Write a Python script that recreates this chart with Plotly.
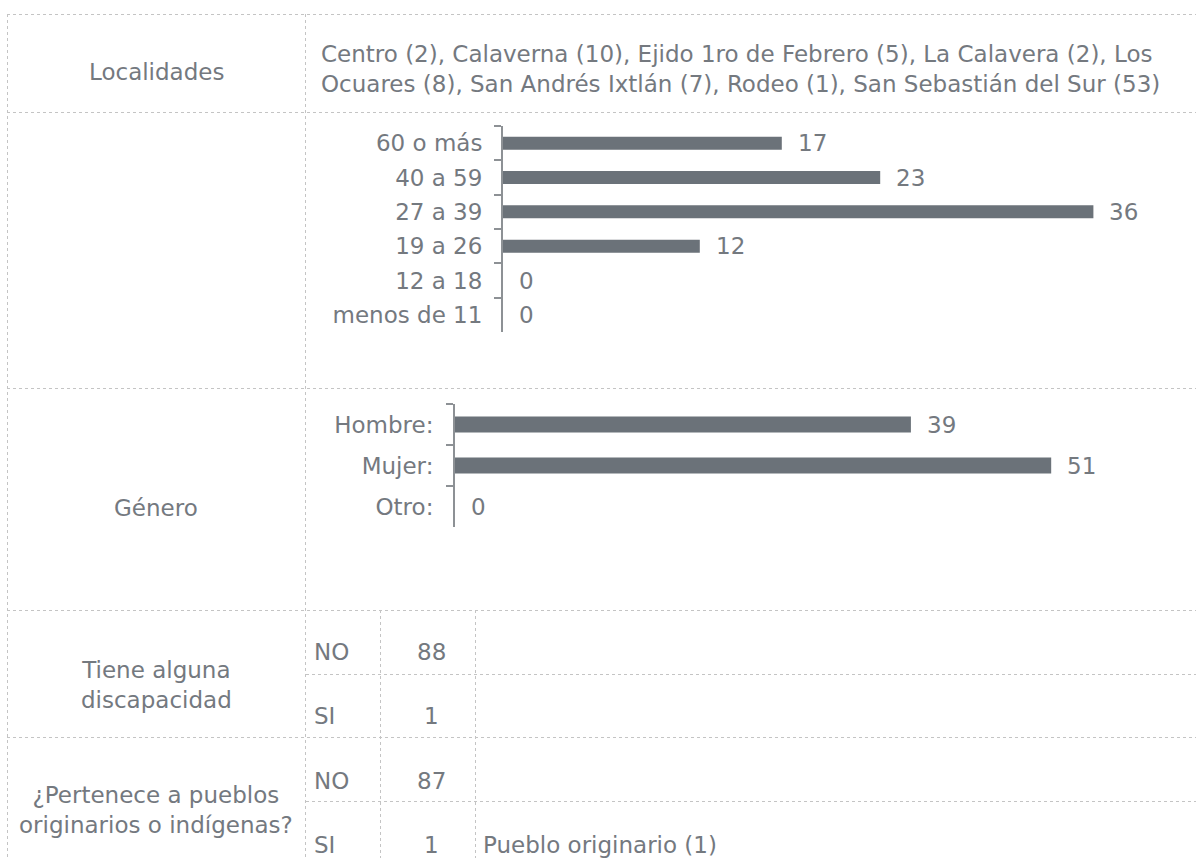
import plotly.graph_objects as go

# ---------------- data ----------------
localidades = ["Centro", "Calaverna", "Ejido 1ro de Febrero", "La Calavera", "Los Ocuares",
               "San Andrés Ixtlán", "Rodeo", "San Sebastián del Sur"]
localidades_n = [2, 10, 5, 2, 8, 7, 1, 53]

edades = ["60 o más", "40 a 59", "27 a 39", "19 a 26", "12 a 18", "menos de 11"]
edades_n = [17, 23, 36, 12, 0, 0]

genero = ["Hombre:", "Mujer:", "Otro:"]
genero_n = [39, 51, 0]

discap_cat = ["NO", "SI"]
discap_n = [88, 1]

pueblo_cat = ["NO", "SI"]
pueblo_n = [87, 1]
pueblo_detalle = ["", "Pueblo originario (1)"]

row_labels = ["Localidades", "Género", "Tiene alguna<br>discapacidad",
              "¿Pertenece a pueblos<br>originarios o indígenas?"]

# ---------------- styling ----------------
W, H = 1196, 858
FONT = "DejaVu Sans"
TXT = "#74797f"
BAR = "#6b7279"
AXC = "#8d9195"
GRID = "#c4c4c4"
FS = 23


def px(x):
    return x / W


def py(y):
    return 1 - y / H


fig = go.Figure()

fig.add_trace(go.Bar(
    x=edades_n, y=edades, orientation="h", marker=dict(color=BAR, line=dict(width=0)),
    width=0.38, xaxis="x", yaxis="y", hoverinfo="skip", showlegend=False))
fig.add_trace(go.Bar(
    x=genero_n, y=genero, orientation="h", marker=dict(color=BAR, line=dict(width=0)),
    width=0.39, xaxis="x2", yaxis="y2", hoverinfo="skip", showlegend=False))

tf = dict(family=FONT, size=FS, color=TXT)
annotations = []
for v, c in zip(edades_n, edades):
    annotations.append(dict(x=v, y=c, xref="x", yref="y", text=str(v), showarrow=False,
                            xanchor="left", xshift=14, font=tf))
for v, c in zip(genero_n, genero):
    annotations.append(dict(x=v, y=c, xref="x2", yref="y2", text=str(v), showarrow=False,
                            xanchor="left", xshift=14, font=tf))

row_pos = [(156, 72), (156, 508), (156, 685), (156, 810)]
for t, (x, y) in zip(row_labels, row_pos):
    annotations.append(dict(x=px(x), y=py(y), xref="paper", yref="paper", text=t, showarrow=False,
                            xanchor="center", yanchor="middle", align="center", font=tf))

loc_text = ", ".join(f"{n} ({c})" for n, c in zip(localidades, localidades_n))
loc_text = loc_text.replace("Los Ocuares", "Los<br>Ocuares")
annotations.append(dict(x=px(319), y=py(69), xref="paper", yref="paper", text=loc_text,
                        showarrow=False, xanchor="left", yanchor="middle", align="left", font=tf))

sub_rows = [(discap_cat, discap_n, ["", ""], [652, 716]),
            (pueblo_cat, pueblo_n, pueblo_detalle, [781, 845])]
for cats, vals, det, ys in sub_rows:
    for c, v, d, y in zip(cats, vals, det, ys):
        annotations.append(dict(x=px(312), y=py(y), xref="paper", yref="paper", text=c,
                                showarrow=False, xanchor="left", yanchor="middle", font=tf))
        annotations.append(dict(x=px(431), y=py(y), xref="paper", yref="paper", text=str(v),
                                showarrow=False, xanchor="center", yanchor="middle", font=tf))
        if d:
            annotations.append(dict(x=px(481), y=py(y), xref="paper", yref="paper", text=d,
                                    showarrow=False, xanchor="left", yanchor="middle", font=tf))

shapes = []


def hline(y, x0, x1=W):
    shapes.append(dict(type="line", xref="paper", yref="paper", x0=px(x0), x1=px(x1),
                       y0=py(y), y1=py(y), line=dict(color=GRID, width=1, dash="dot")))


def vline(x, y0, y1=H):
    shapes.append(dict(type="line", xref="paper", yref="paper", x0=px(x), x1=px(x),
                       y0=py(y0), y1=py(y1), line=dict(color=GRID, width=1, dash="dot")))


for y in [14.5, 112.5, 388.5, 610.5, 737.5]:
    hline(y, 7)
for y in [674.5, 801.5]:
    hline(y, 306)
vline(7.5, 14)
vline(305.5, 14)
vline(380.5, 610)
vline(475.5, 610)

axis_common = dict(showgrid=False, zeroline=False)
yax_common = dict(type="category", categoryorder="array", autorange="reversed", showline=True,
                  linecolor=AXC, linewidth=2, ticks="outside", tickson="boundaries", ticklen=7,
                  tickwidth=2, tickcolor=AXC, tickfont=tf, **axis_common)

fig.update_layout(
    width=W, height=H, margin=dict(l=0, r=0, t=0, b=0),
    paper_bgcolor="white", plot_bgcolor="rgba(0,0,0,0)",
    showlegend=False, barmode="overlay",
    font=tf,
    xaxis=dict(domain=[px(503), px(503 + 40 * 16.4)], range=[0, 40], visible=False, **axis_common),
    yaxis=dict(domain=[py(332), py(126)], anchor="x", categoryarray=edades,
               ticklabelstandoff=14, **yax_common),
    xaxis2=dict(domain=[px(455), px(455 + 60 * 11.69)], range=[0, 60], visible=False,
                anchor="y2", **axis_common),
    yaxis2=dict(domain=[py(527), py(404)], anchor="x2", categoryarray=genero,
                ticklabelstandoff=15, **yax_common),
    annotations=annotations, shapes=shapes,
)

fig.write_html("out.html", config={"displayModeBar": False},
               post_script="document.body.style.margin='0px';")
